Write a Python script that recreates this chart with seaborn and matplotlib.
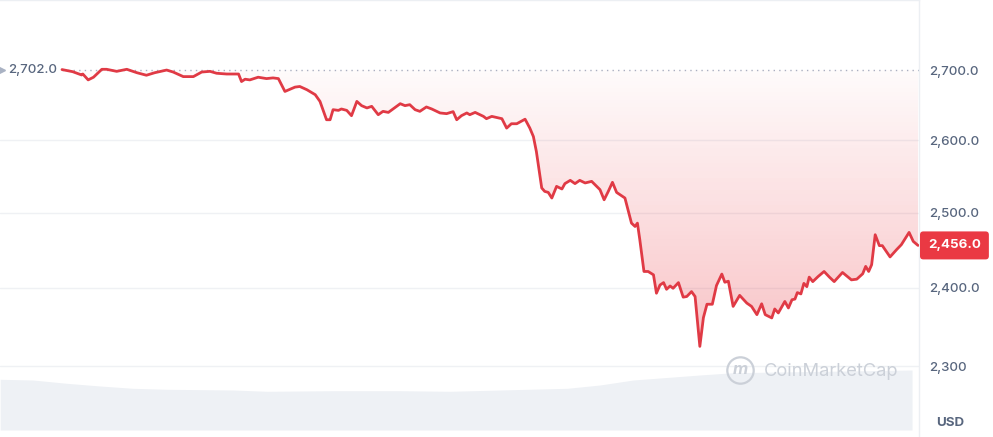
import numpy as np
import seaborn as sns
import matplotlib.pyplot as plt
from matplotlib.colors import LinearSegmentedColormap
from matplotlib.ticker import NullLocator
import matplotlib.transforms as mtransforms

# 24h price window: minutes since open, price in USD
minutes = [0, 18, 33, 35, 44, 53, 67, 75, 92, 109,
           126, 142, 156, 176, 187, 204, 221, 235, 249, 260,
           277, 297, 302, 308, 316, 330, 344, 355, 364, 375,
           392, 400, 412, 426, 434, 445, 451, 456, 465, 470,
           479, 487, 496, 504, 513, 521, 532, 540, 549, 569,
           577, 585, 594, 602, 613, 622, 636, 647, 658, 664,
           672, 681, 686, 695, 709, 714, 723, 740, 748, 756,
           765, 779, 787, 793, 798, 807, 812, 818, 824, 832,
           841, 846, 855, 863, 871, 880, 891, 902, 905, 912,
           919, 926, 933, 947, 958, 964, 968, 972, 979, 986,
           995, 1000, 1006, 1012, 1017, 1023, 1028, 1037, 1045, 1051,
           1059, 1065, 1073, 1079, 1085, 1094, 1101, 1110, 1115, 1121,
           1129, 1140, 1152, 1160, 1169, 1177, 1183, 1194, 1199, 1205,
           1216, 1222, 1228, 1233, 1237, 1243, 1248, 1253, 1257, 1263,
           1272, 1282, 1291, 1299, 1313, 1328, 1337, 1347, 1352, 1357,
           1362, 1368, 1375, 1380, 1393, 1404, 1412, 1425, 1432, 1440]
prices = [2702.0, 2698.9, 2694.1, 2695.5, 2686.9, 2690.8, 2702.4, 2702.4, 2699.4, 2702.4,
          2697.4, 2693.7, 2697.4, 2701.3, 2698.4, 2691.7, 2691.7, 2698.4, 2699.4, 2696.6,
          2695.5, 2695.5, 2684.5, 2687.9, 2686.9, 2690.8, 2688.8, 2689.8, 2688.8, 2670.1,
          2676.4, 2677.3, 2672.6, 2665.4, 2655.7, 2629.4, 2629.4, 2643.8, 2642.8, 2644.8,
          2642.8, 2635.2, 2655.7, 2649.6, 2646.3, 2648.6, 2636.6, 2641.4, 2639.9, 2652.4,
          2649.6, 2651.0, 2643.8, 2641.4, 2647.7, 2644.8, 2639.1, 2638.1, 2641.0, 2629.4,
          2635.2, 2639.1, 2636.6, 2639.9, 2634.2, 2630.9, 2634.2, 2630.9, 2617.5, 2623.7,
          2623.7, 2630.2, 2617.5, 2605.5, 2584.5, 2533.8, 2529.1, 2527.7, 2520.0, 2536.0,
          2532.4, 2539.8, 2544.3, 2539.8, 2544.3, 2540.7, 2542.9, 2533.8, 2531.5, 2517.6,
          2529.1, 2541.6, 2527.7, 2520.0, 2485.9, 2481.4, 2485.9, 2463.7, 2421.5, 2421.5,
          2417.1, 2393.1, 2403.8, 2406.9, 2398.2, 2402.5, 2399.5, 2406.9, 2388.0, 2388.8,
          2395.2, 2388.8, 2325.0, 2361.6, 2378.8, 2378.8, 2403.1, 2418.1, 2407.4, 2408.7,
          2376.0, 2390.3, 2380.3, 2376.0, 2365.4, 2379.4, 2365.4, 2361.2, 2372.7, 2367.6,
          2382.4, 2374.0, 2384.6, 2385.5, 2393.9, 2392.2, 2405.9, 2401.6, 2414.1, 2408.2,
          2414.9, 2421.5, 2414.1, 2408.2, 2420.2, 2410.5, 2411.4, 2418.5, 2428.2, 2421.5,
          2430.4, 2470.3, 2455.7, 2455.7, 2440.7, 2450.4, 2457.0, 2473.4, 2461.4, 2456.0]

# volume band (relative units)
vol_minutes = [-104, -49, 8, 64, 119, 177, 288, 345, 456, 569,
               653, 737, 850, 905, 961, 1073, 1129, 1241, 1354, 1430]
volumes = [50.7, 50.0, 46.7, 44.0, 41.7, 40.7, 40.0, 38.7, 39.3, 39.3,
           38.7, 40.0, 41.7, 45.0, 50.0, 55.0, 57.3, 58.3, 59.3, 60.0]

open_price = 2702.0
last_price = 2456.0
tick_values = [2300, 2400, 2500, 2600, 2700]
tick_labels = ["2,300", "2,400.0", "2,500.0", "2,600.0", "2,700.0"]
grid_values = [2300, 2400, 2500, 2600]

RED = "#e03a45"
GREY_TXT = "#58667e"

sns.set_theme(style="white")
plt.rcParams["font.family"] = ["Inter", "DejaVu Sans"]

W, H = 993, 437
fig = plt.figure(figsize=(W / 100, H / 100), dpi=100)
right_px = 919
vax = fig.add_axes([0, 7 / H, right_px / W, 60 / H], zorder=0)
ax = fig.add_axes([0, 0, right_px / W, 1], zorder=1)
ax.patch.set_alpha(0)

x0 = -62 * 1440 / 856
x1 = (right_px - 62) * 1440 / 856

# volume
vax.fill_between(vol_minutes, 0, volumes, color="#eef1f5", lw=0)
vax.set_xlim(x0, x1)
vax.set_ylim(0, 60)
vax.axis("off")

# price
ax.set_yscale("log")
ax.set_xlim(x0, x1)
ax.set_ylim(2213.4, 2806.0)

for v in grid_values:
    ax.axhline(v, color="#eff1f4", lw=1, zorder=0)
ax.axhline(open_price, xmin=62 / right_px, color="#a9b2c3", lw=1,
           linestyle=(0, (1, 3)), zorder=1)

# gradient fill between open price and the price line
lower = np.minimum(np.array(prices), open_price)
poly = ax.fill_between(minutes, lower, open_price, facecolor="none",
                       edgecolor="none")
cmap = LinearSegmentedColormap.from_list(
    "fade", [(0.918, 0.224, 0.263, 0.32), (0.918, 0.224, 0.263, 0.02)])
ys = np.geomspace(2300, open_price, 80)
cvals = np.linspace(0, 1, 79).reshape(-1, 1)
mesh = ax.pcolormesh([min(minutes), max(minutes)], ys, cvals, cmap=cmap,
                     shading="flat", zorder=1, rasterized=True)
mesh.set_clip_path(poly.get_paths()[0], ax.transData)

sns.lineplot(x=minutes, y=prices, ax=ax, color=RED, linewidth=2.0,
             zorder=3)

ax.yaxis.tick_right()
ax.set_yticks(tick_values)
ax.set_yticklabels(tick_labels)
ax.yaxis.set_minor_locator(NullLocator())
ax.tick_params(axis="y", length=0, pad=7, labelcolor=GREY_TXT,
               labelsize=9.6)
for lab in ax.get_yticklabels():
    lab.set_fontweight("medium")
ax.set_xticks([])
ax.set_xlabel("")
ax.set_ylabel("")
for side in ["left", "bottom"]:
    ax.spines[side].set_visible(False)
for side in ["top", "right"]:
    ax.spines[side].set_color("#eceff3")
    ax.spines[side].set_linewidth(1)

blend = mtransforms.blended_transform_factory(ax.transAxes, ax.transData)
ax.text(57 / right_px, open_price, "2,702.0", transform=blend, ha="right",
        va="center", color=GREY_TXT, fontsize=9.6, fontweight="medium")
ax.plot([2 / right_px], [open_price], transform=blend, marker=">", ms=4,
        color="#a9b2c3", clip_on=False)
ax.text(928 / right_px, last_price, "2,456.0", transform=blend, ha="left",
        va="center", color="white", fontsize=9.6, fontweight="bold",
        bbox=dict(boxstyle="round,pad=0.6,rounding_size=0.25", fc="#ea3943",
                  ec="none"), clip_on=False)

fig.text(950 / W, 1 - 423 / H, "USD", ha="center", va="center",
         color=GREY_TXT, fontsize=9.6, fontweight="bold")

# watermark
wm = "#cbd0d8"
fig.text(764 / W, 1 - 371 / H, "CoinMarketCap", ha="left", va="center",
         color=wm, fontsize=13.2)
ax.plot([740 / W], [1 - 370 / H], transform=fig.transFigure, marker="o",
        ms=19, mfc="none", mec=wm, mew=1.6, clip_on=False)
fig.text(740 / W, 1 - 369 / H, "m", ha="center", va="center", color=wm,
         fontsize=12, fontstyle="italic", fontweight="bold")

fig.savefig("out.png", dpi=100)
